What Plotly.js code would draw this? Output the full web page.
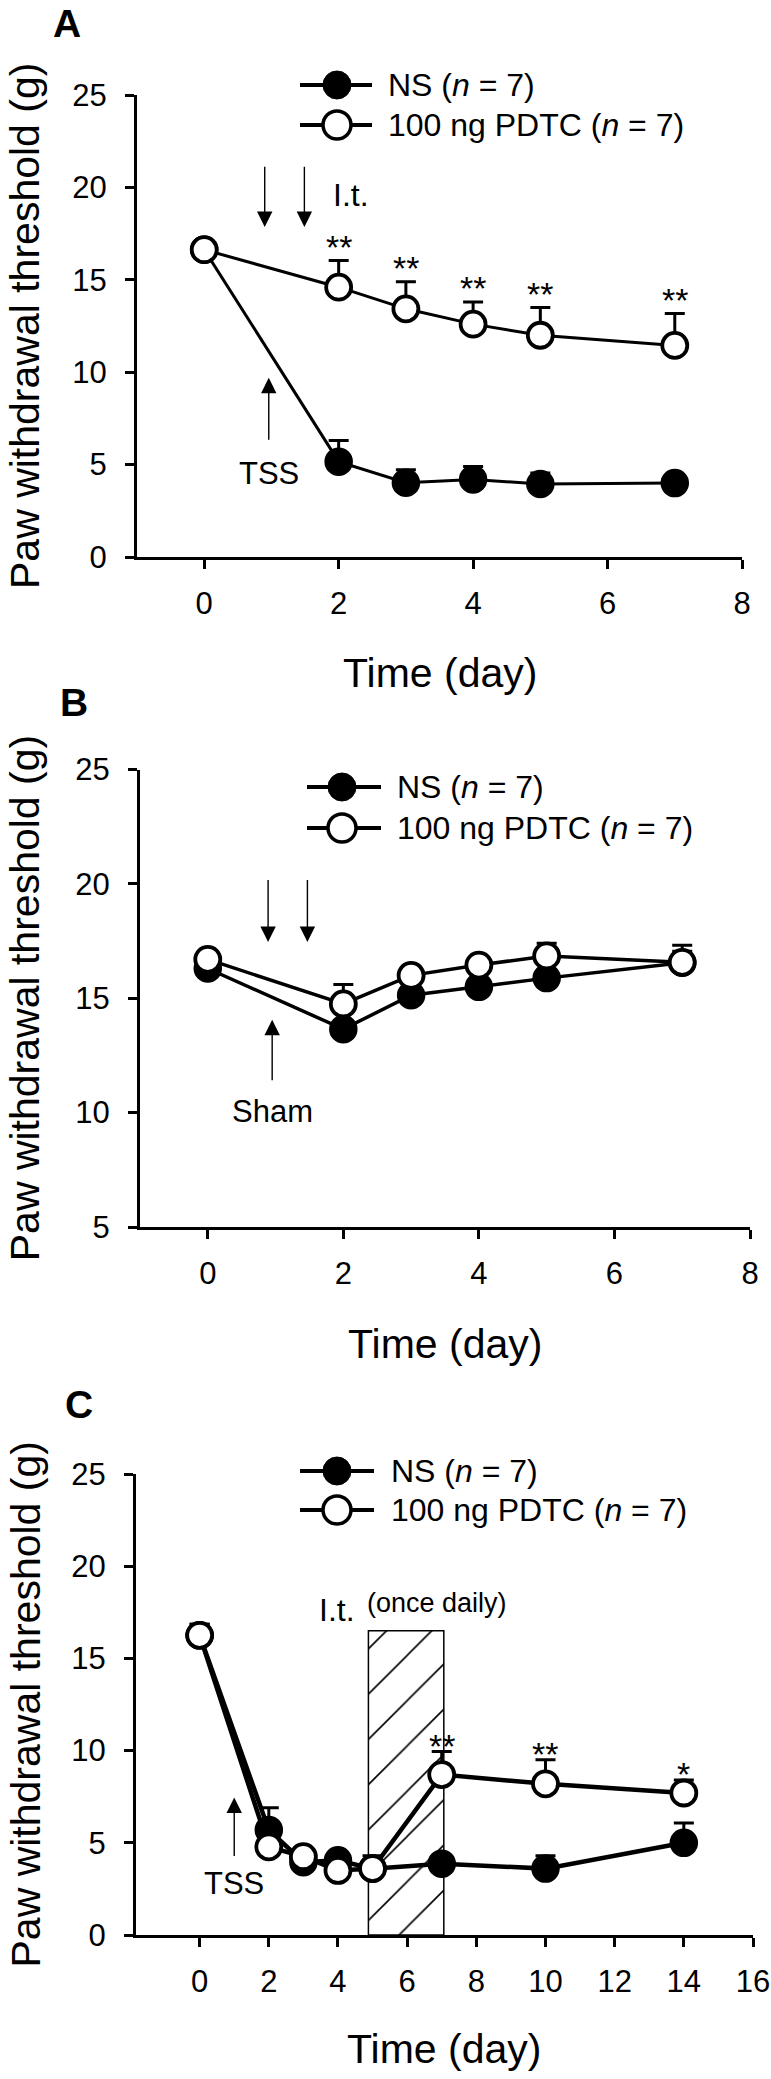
<!DOCTYPE html>
<html>
<head>
<meta charset="utf-8">
<script src="https://cdn.plot.ly/plotly-3.0.1.min.js"></script>
<style>html,body{margin:0;padding:0;background:#fff;}#chart{width:771px;height:2079px;}</style>
</head>
<body>
<div id="chart"></div>
<script>
// ---------- data ----------
const daysAB = [0, 2, 3, 4, 5, 7];
const nsA = [16.63, 5.16, 4.02, 4.20, 3.95, 4.00];
const nsAErr = [0.2, 1.14, 0.7, 0.7, 0.6, 0.3];
const pdtcA = [16.63, 14.60, 13.43, 12.60, 12.00, 11.45];
const pdtcAErr = [0.2, 1.44, 1.47, 1.20, 1.50, 1.72];
const sigA = ['', '**', '**', '**', '**', '**'];

const nsB = [16.30, 13.65, 15.13, 15.50, 15.88, 16.55];
const nsBErr = [0.2, 0.3, 0.3, 0.3, 0.3, 0.5];
const pdtcB = [16.70, 14.75, 16.00, 16.45, 16.85, 16.57];
const pdtcBErr = [0.2, 0.85, 0.4, 0.3, 0.55, 0.75];

const daysC = [0, 2, 3, 4, 5, 7, 10, 14];
const nsC = [16.25, 5.70, 3.95, 4.05, 3.60, 3.87, 3.60, 5.00];
const nsCErr = [0.6, 1.2, 0.3, 0.45, 0.5, 0.3, 0.7, 1.07];
const pdtcC = [16.25, 4.78, 4.25, 3.50, 3.60, 8.70, 8.20, 7.70];
const pdtcCErr = [0.6, 0.3, 0.3, 0.6, 0.7, 1.25, 1.3, 0.7];
const sigC = ['', '', '', '', '', '**', '**', '*'];

const treatStart = 4.88, treatEnd = 7.06, treatTop = 16.5;  // I.t. (once daily) period

const legendNames = ['NS (<i>n</i> = 7)', '100 ng PDTC (<i>n</i> = 7)'];

// ---------- layout helpers ----------
const W = 771, H = 2079;
const px = v => v / W;
const py = v => 1 - v / H;
const FONT = 'Liberation Sans, Arial, sans-serif';

const panels = [
  {key: '',  x0: 137, x1: 742, yTop: 95,    yBot: 557,  xr: [-1, 8],     yr: [0, 25], label: 'A', lab: [67, 23],   leg: [85, 125, 300, 372, 337, 386],   xt: 673},
  {key: '2', x0: 140, x1: 750, yTop: 769.5, yBot: 1227, xr: [-1, 8],     yr: [5, 25], label: 'B', lab: [74, 702],  leg: [787, 828, 307, 381, 342, 395],  xt: 1344},
  {key: '3', x0: 136, x1: 753, yTop: 1474,  yBot: 1935, xr: [-1.84, 16], yr: [0, 25], label: 'C', lab: [79, 1404], leg: [1471, 1510, 300, 374, 337, 389], xt: 2049}
];

const layout = {
  width: W, height: H,
  margin: {l: 0, r: 0, t: 0, b: 0},
  paper_bgcolor: '#fff', plot_bgcolor: 'rgba(0,0,0,0)',
  showlegend: false,
  font: {family: FONT, color: '#000', size: 31},
  annotations: [], shapes: []
};

panels.forEach(p => {
  const xa = {
    domain: [px(p.x0), px(p.x1)], range: p.xr, anchor: 'y' + p.key,
    showline: true, linewidth: 3, linecolor: '#000', mirror: false,
    ticks: 'outside', ticklen: 9, tickwidth: 3, tickcolor: '#000',
    tick0: 0, dtick: 2, showgrid: false, zeroline: false,
    tickfont: {family: FONT, size: 31, color: '#000'}, ticklabelstandoff: 8
  };
  const ya = {
    domain: [py(p.yBot), py(p.yTop)], range: p.yr, anchor: 'x' + p.key,
    showline: true, linewidth: 3, linecolor: '#000', mirror: false,
    ticks: 'outside', ticklen: 9, tickwidth: 3, tickcolor: '#000',
    tick0: 0, dtick: 5, showgrid: false, zeroline: false,
    tickfont: {family: FONT, size: 31, color: '#000'}, ticklabelstandoff: 12
  };
  layout['xaxis' + p.key] = xa;
  layout['yaxis' + p.key] = ya;

  // panel label
  layout.annotations.push({xref: 'paper', yref: 'paper', x: px(p.lab[0]), y: py(p.lab[1]),
    text: '<b>' + p.label + '</b>', showarrow: false, xanchor: 'center', yanchor: 'middle',
    font: {family: FONT, size: 39, color: '#000'}});
  // axis titles
  layout.annotations.push({xref: 'paper', yref: 'paper', x: px((p.x0 + p.x1) / 2), y: py(p.xt),
    text: 'Time (day)', showarrow: false, xanchor: 'center', yanchor: 'middle',
    font: {family: FONT, size: 41, color: '#000'}});
  layout.annotations.push({xref: 'paper', yref: 'paper', x: px(25), y: py((p.yTop + p.yBot) / 2),
    text: 'Paw withdrawal threshold (g)', showarrow: false, textangle: -90,
    xanchor: 'center', yanchor: 'middle', font: {family: FONT, size: 41, color: '#000'}});

  // custom legend
  const [r1, r2, lx0, lx1, mx, tx] = p.leg;
  [r1, r2].forEach((r, i) => {
    layout.shapes.push({type: 'line', xref: 'paper', yref: 'paper', x0: px(lx0), x1: px(lx1),
      y0: py(r), y1: py(r), line: {color: '#000', width: 4}});
    layout.shapes.push({type: 'circle', xref: 'paper', yref: 'paper',
      xsizemode: 'pixel', ysizemode: 'pixel', xanchor: px(mx), yanchor: py(r),
      x0: -14, x1: 14, y0: -14, y1: 14,
      fillcolor: i === 0 ? '#000' : '#fff', line: {color: '#000', width: i === 0 ? 1 : 3.5}});
    layout.annotations.push({xref: 'paper', yref: 'paper', x: px(tx), y: py(r),
      text: legendNames[i], showarrow: false, xanchor: 'left', yanchor: 'middle',
      font: {family: FONT, size: 32, color: '#000'}});
  });
});

// text labels & arrows in data coordinates
function txt(k, x, y, t, size) {
  layout.annotations.push({xref: 'x' + k, yref: 'y' + k, x: x, y: y, text: t, showarrow: false,
    xanchor: 'center', yanchor: 'middle', font: {family: FONT, size: size || 31, color: '#000'}});
}
function arrow(k, x, yHead, yTail) {
  layout.annotations.push({xref: 'x' + k, yref: 'y' + k, axref: 'x' + k, ayref: 'y' + k,
    x: x, y: yHead, ax: x, ay: yTail, text: '', showarrow: true,
    arrowhead: 2, arrowsize: 2.2, arrowwidth: 1.4, arrowcolor: '#000', standoff: 0, startstandoff: 0});
}
// A
arrow('', 0.90, 17.86, 21.2); arrow('', 1.49, 17.86, 21.2); arrow('', 0.96, 9.7, 6.27);
txt('', 2.19, 19.6, 'I.t.', 32); txt('', 0.96, 4.54, 'TSS', 31);
// B
arrow('2', 0.89, 17.46, 20.23); arrow('2', 1.47, 17.46, 20.23); arrow('2', 0.95, 14.06, 11.35);
txt('2', 0.95, 10.06, 'Sham', 31);
// C
arrow('3', 1.0, 7.45, 4.2);
txt('3', 1.0, 2.8, 'TSS', 31);
txt('3', 3.96, 17.6, 'I.t.', 32);
txt('3', 6.85, 17.98, '(once daily)', 27);

// significance stars
function stars(k, xs, ys, es, sig, shift) {
  xs.forEach((x, i) => {
    if (!sig[i]) return;
    layout.annotations.push({xref: 'x' + k, yref: 'y' + k, x: x, y: ys[i] + es[i], text: sig[i],
      showarrow: false, xanchor: 'center', yanchor: 'bottom', yshift: shift,
      font: {family: FONT, size: 34, color: '#000'}});
  });
}
stars('', daysAB, pdtcA, pdtcAErr, sigA, -7);
stars('3', daysC, pdtcC, pdtcCErr, sigC, -15);

// ---------- traces ----------
function series(k, xs, ys, es, filled, lw) {
  return {
    type: 'scatter', mode: 'lines+markers', xaxis: 'x' + k, yaxis: 'y' + k,
    x: xs, y: ys, cliponaxis: false,
    line: {color: '#000', width: lw},
    marker: filled ? {size: 27, color: '#000', line: {color: '#000', width: 1.5}}
                   : {size: 25, color: '#fff', line: {color: '#000', width: 3.8}},
    error_y: {type: 'data', symmetric: false, array: es, arrayminus: es.map(() => 0),
      color: '#000', thickness: 3, width: 10},
    hoverinfo: 'skip'
  };
}

const hatch = {
  type: 'bar', xaxis: 'x3', yaxis: 'y3',
  x: [(treatStart + treatEnd) / 2], y: [treatTop], width: [treatEnd - treatStart], base: [0],
  marker: {color: '#fff', line: {color: '#000', width: 1.5},
    pattern: {shape: '/', fgcolor: '#000', bgcolor: '#fff', size: 32, solidity: 0.05}},
  hoverinfo: 'skip'
};

const data = [
  hatch,
  series('', daysAB, nsA, nsAErr, true, 3),
  series('', daysAB, pdtcA, pdtcAErr, false, 3),
  series('2', daysAB, nsB, nsBErr, true, 3.5),
  series('2', daysAB, pdtcB, pdtcBErr, false, 3.5),
  series('3', daysC, nsC, nsCErr, true, 4.5),
  series('3', daysC, pdtcC, pdtcCErr, false, 4.5)
];

Plotly.newPlot('chart', data, layout, {staticPlot: true, displayModeBar: false});
</script>
</body>
</html>
